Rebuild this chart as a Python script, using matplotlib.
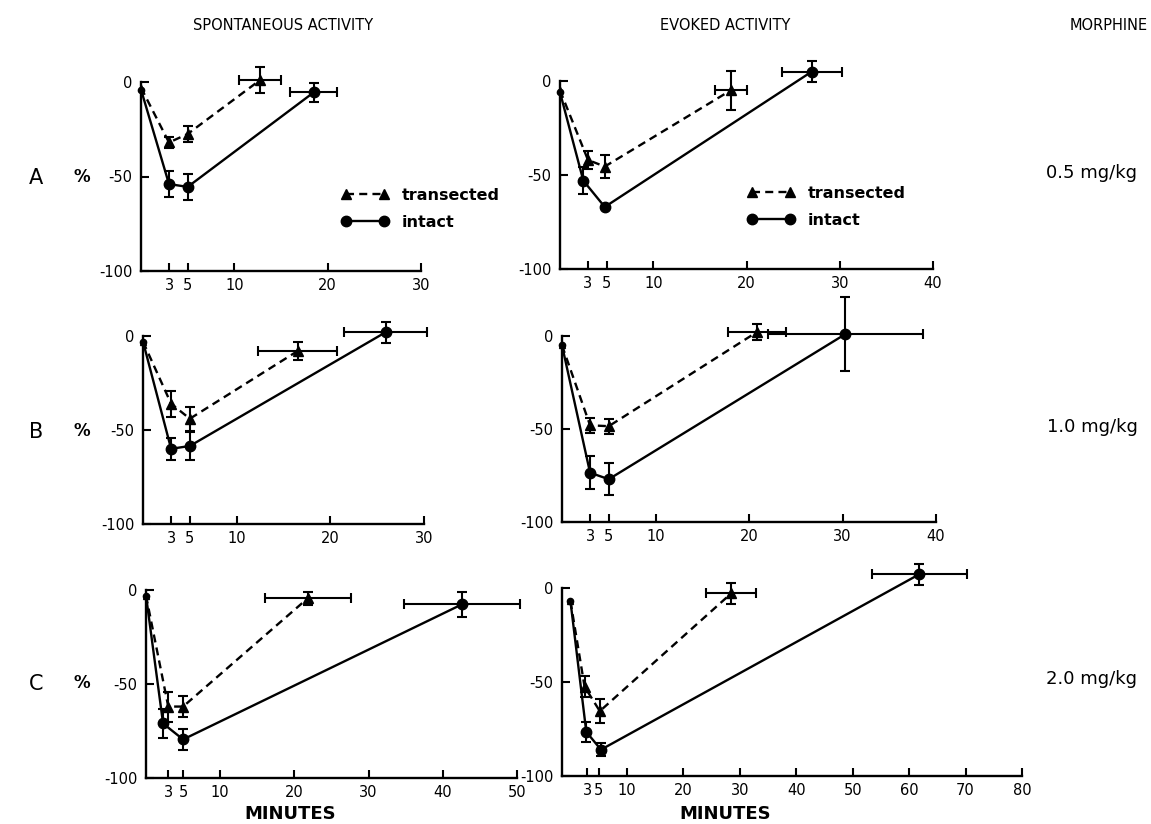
import matplotlib
matplotlib.use("Agg")
import matplotlib.pyplot as plt
import numpy as np
from matplotlib.lines import Line2D

plt.rcParams['font.family'] = ['DejaVu Sans']

# ---------------- data ----------------
# Row A : 0.5 mg/kg
a_sp_tr_x = [0, 3, 5, 12.75]; a_sp_tr_y = [-3, -32, -27.5, 1]
a_sp_tr_ye = [0, 3, 4, 7];    a_sp_tr_xe = [0, 0, 0, 2.3]
a_sp_in_x = [0, 3, 5, 18.5];  a_sp_in_y = [-4, -54, -55.5, -5.5]
a_sp_in_ye = [0, 7, 7, 5];    a_sp_in_xe = [0, 0, 0, 2.5]

a_ev_tr_x = [0, 3, 4.8, 18.3]; a_ev_tr_y = [-5, -42, -45.5, -5]
a_ev_tr_ye = [0, 5, 6, 10.5];  a_ev_tr_xe = [0, 0, 0, 1.7]
a_ev_in_x = [0, 2.5, 4.8, 27]; a_ev_in_y = [-6, -53, -67, 5]
a_ev_in_ye = [0, 7, 0, 5.5];   a_ev_in_xe = [0, 0, 0, 3.2]

# Row B : 1.0 mg/kg
b_sp_tr_x = [0, 3, 5, 16.5];  b_sp_tr_y = [-3, -36, -44, -8]
b_sp_tr_ye = [0, 7, 6.5, 4.6]; b_sp_tr_xe = [0, 0, 0, 4.2]
b_sp_in_x = [0, 3, 5, 25.9];  b_sp_in_y = [-3, -60, -58.5, 2]
b_sp_in_ye = [0, 6, 7.5, 5.5]; b_sp_in_xe = [0, 0, 0, 4.4]

b_ev_tr_x = [0, 3, 5, 20.9];  b_ev_tr_y = [-5, -48, -48.5, 2.3]
b_ev_tr_ye = [0, 4, 4, 4.3];  b_ev_tr_xe = [0, 0, 0, 3.1]
b_ev_in_x = [0, 3, 5, 30.3];  b_ev_in_y = [-5, -73.5, -77, 1]
b_ev_in_ye = [0, 9, 8.5, 20]; b_ev_in_xe = [0, 0, 0, 8.3]

# Row C : 2.0 mg/kg
c_sp_tr_x = [0, 3, 5, 21.8];  c_sp_tr_y = [-3, -62, -62, -4.4]
c_sp_tr_ye = [0, 8, 5.7, 3.5]; c_sp_tr_xe = [0, 0, 0, 5.8]
c_sp_in_x = [0, 2.3, 5, 42.6]; c_sp_in_y = [-3, -71, -79.5, -7.6]
c_sp_in_ye = [0, 7.8, 5.7, 6.5]; c_sp_in_xe = [0, 0, 0, 7.8]

c_ev_tr_x = [0, 2.5, 5.2, 28.5]; c_ev_tr_y = [-7, -52.5, -65.5, -2.8]
c_ev_tr_ye = [0, 5.5, 6.5, 5.6]; c_ev_tr_xe = [0, 0, 0, 4.4]
c_ev_in_x = [0, 2.8, 5.4, 61.8]; c_ev_in_y = [-7, -76.5, -86, 7.3]
c_ev_in_ye = [0, 5.2, 3.4, 5.7]; c_ev_in_xe = [0, 0, 0, 8.4]

y_ticks = [0, -50, -100]
y_ticklabels = ["0", "-50", "-100"]
x_ticks_30 = [3, 5, 10, 20, 30]
x_ticks_40 = [3, 5, 10, 20, 30, 40]
x_ticks_50 = [3, 5, 10, 20, 30, 40, 50]
x_ticks_80 = [3, 5, 10, 20, 30, 40, 50, 60, 70, 80]

col_titles = ["SPONTANEOUS ACTIVITY", "EVOKED ACTIVITY", "MORPHINE"]
row_letters = ["A", "B", "C"]
doses = ["0.5 mg/kg", "1.0 mg/kg", "2.0 mg/kg"]
series_names = ["transected", "intact"]

# ---------------- layout ----------------
W, H = 1151, 824
fig = plt.figure(figsize=(W / 100, H / 100), dpi=100)


def add_axes_px(x0, x1, ytop, ybot):
    return fig.add_axes([x0 / W, 1 - ybot / H, (x1 - x0) / W, (ybot - ytop) / H])


panels = [
    ((141, 421, 82, 271), (0, 30), x_ticks_30,
     (a_sp_tr_x, a_sp_tr_y, a_sp_tr_xe, a_sp_tr_ye), (a_sp_in_x, a_sp_in_y, a_sp_in_xe, a_sp_in_ye)),
    ((560, 933, 81, 269), (0, 40), x_ticks_40,
     (a_ev_tr_x, a_ev_tr_y, a_ev_tr_xe, a_ev_tr_ye), (a_ev_in_x, a_ev_in_y, a_ev_in_xe, a_ev_in_ye)),
    ((143, 424, 336, 524), (0, 30), x_ticks_30,
     (b_sp_tr_x, b_sp_tr_y, b_sp_tr_xe, b_sp_tr_ye), (b_sp_in_x, b_sp_in_y, b_sp_in_xe, b_sp_in_ye)),
    ((562, 936, 336, 522), (0, 40), x_ticks_40,
     (b_ev_tr_x, b_ev_tr_y, b_ev_tr_xe, b_ev_tr_ye), (b_ev_in_x, b_ev_in_y, b_ev_in_xe, b_ev_in_ye)),
    ((146, 517, 590, 778), (0, 50), x_ticks_50,
     (c_sp_tr_x, c_sp_tr_y, c_sp_tr_xe, c_sp_tr_ye), (c_sp_in_x, c_sp_in_y, c_sp_in_xe, c_sp_in_ye)),
    ((562, 1022, 588, 776), (-1.5, 80), x_ticks_80,
     (c_ev_tr_x, c_ev_tr_y, c_ev_tr_xe, c_ev_tr_ye), (c_ev_in_x, c_ev_in_y, c_ev_in_xe, c_ev_in_ye)),
]

LW = 1.7
DASH = (0, (3.4, 2.2))
axes = []
for box, xl, xt, tr, inn in panels:
    ax = add_axes_px(*box)
    axes.append(ax)
    ax.set_xlim(*xl)
    ax.set_ylim(-100, 0)
    ax.patch.set_alpha(0)
    for s in ["top", "right"]:
        ax.spines[s].set_visible(False)
    for s in ["left", "bottom"]:
        ax.spines[s].set_linewidth(1.7)
    ax.set_yticks(y_ticks)
    ax.set_yticklabels(y_ticklabels)
    ax.set_xticks(xt)
    ax.set_xticklabels([str(v) for v in xt])
    ax.tick_params(direction="in", length=6, width=1.5, labelsize=10.5, pad=6)
    ax.tick_params(axis="x", pad=5)

    for (xs, ys, xe, ye), ls, mk, ms in [(tr, DASH, "^", 7),
                                          (inn, "-", "o", 7.5)]:
        xs = np.asarray(xs, float); ys = np.asarray(ys, float)
        xe = np.asarray(xe, float); ye = np.asarray(ye, float)
        ax.plot(xs, ys, linestyle=ls, color="black", lw=LW, marker=mk,
                ms=ms, markevery=list(range(1, len(xs))), clip_on=False, zorder=3)
        ax.plot(xs[:1], ys[:1], linestyle="none", color="black", marker=mk,
                ms=4.5, clip_on=False, zorder=3)
        m = ye > 0
        if m.any():
            ax.errorbar(xs[m], ys[m], yerr=ye[m], fmt="none", ecolor="black",
                        elinewidth=1.5, capsize=3.5, capthick=1.5, clip_on=False, zorder=2)
        m = xe > 0
        if m.any():
            ax.errorbar(xs[m], ys[m], xerr=xe[m], fmt="none", ecolor="black",
                        elinewidth=1.5, capsize=3.5, capthick=1.5, clip_on=False, zorder=2)

# legends in row A
handles = [Line2D([], [], color="black", lw=LW, ls=DASH, marker="^", ms=7),
           Line2D([], [], color="black", lw=LW, ls="-", marker="o", ms=7.5)]
for ax, (lx, ly) in [(axes[0], (341, 188)), (axes[1], (747, 186))]:
    ax.legend(handles, series_names, loc="upper left", numpoints=2, frameon=False,
              handlelength=3.0, handletextpad=0.8, labelspacing=0.75,
              borderpad=0, borderaxespad=0,
              prop={"size": 11.5, "weight": "bold"},
              bbox_to_anchor=(lx / W, 1 - ly / H), bbox_transform=fig.transFigure)

# column titles
for txt, xc in zip(col_titles, [283, 725, 1109]):
    fig.text(xc / W, 1 - 25 / H, txt, ha="center", va="center", fontsize=10.5)

# row labels
for letter, dose, yc in zip(row_letters, doses, [178, 432, 684]):
    fig.text(36 / W, 1 - yc / H, letter, ha="center", va="center", fontsize=15)
    fig.text(82 / W, 1 - (yc - 1) / H, "%", ha="center", va="center", fontsize=12,
             fontweight="bold")
    fig.text(1092 / W, 1 - (yc - 5) / H, dose, ha="center", va="center", fontsize=13)

for xc in [290, 725]:
    fig.text(xc / W, 1 - 814 / H, "MINUTES", ha="center", va="center", fontsize=13,
             fontweight="bold")

fig.savefig("out.png", dpi=100)
